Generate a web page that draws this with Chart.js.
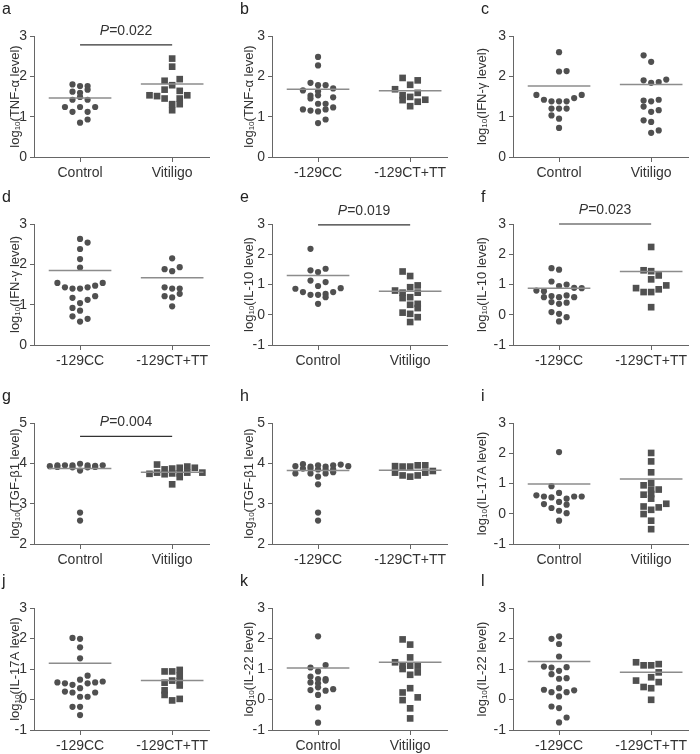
<!DOCTYPE html>
<html>
<head>
<meta charset="utf-8">
<script src="https://cdn.jsdelivr.net/npm/chart.js@4.4.0/dist/chart.umd.min.js"></script>
<style>
    body { margin: 0; background: #fff; width: 700px; height: 754px; position: relative; overflow: hidden; }
    canvas { position: absolute; }
</style>
</head>
<body>
<script>
// groups on the x axis
const caseGroups = ['Control', 'Vitiligo'];
const genoGroups = ['-129CC', '-129CT+TT'];

// y tick labels
const yTicksLow = [0, 1, 2, 3];
const yTicksIL = [-1, 0, 1, 2, 3];
const yTicksTGF = [2, 3, 4, 5];

// each point: [jitter slot, log10 level]
const tnfCtrl = [[-1,1.80],[0,1.76],[1,1.76],[1,1.67],[-1,1.62],[0,1.59],[0,1.49],[-1,1.42],[1,1.42],[-2,1.24],[0,1.24],[2,1.24],[-1,1.12],[1,1.12],[1,0.93],[0,0.85]];
const tnfVit = [[0,2.44],[0,2.24],[1,1.93],[-1,1.89],[0,1.78],[-1,1.67],[1,1.64],[-3,1.53],[-2,1.51],[2,1.53],[-1,1.45],[1,1.45],[0,1.31],[1,1.31],[0,1.16]];
const tnfCC = [[0,2.48],[0,2.27],[-1,1.84],[0,1.78],[1,1.78],[-2,1.65],[2,1.70],[0,1.63],[-1,1.52],[0,1.53],[2,1.48],[-1,1.45],[0,1.32],[1,1.32],[-2,1.18],[-1,1.15],[0,1.13],[1,1.18],[2,1.23],[1,0.93],[0,0.84]];
const tnfCT = [[-1,1.96],[1,1.90],[0,1.79],[-2,1.68],[1,1.59],[-1,1.53],[0,1.49],[-1,1.41],[2,1.42],[1,1.37],[0,1.26]];

const ifnCtrl = [[0,2.60],[0,2.12],[1,2.13],[-3,1.54],[3,1.54],[-2,1.42],[-1,1.38],[0,1.38],[1,1.38],[2,1.46],[-1,1.20],[0,1.20],[1,1.20],[-1,1.03],[0,0.95],[0,0.72]];
const ifnVit = [[-1,2.52],[0,2.36],[-1,1.90],[0,1.84],[1,1.86],[2,1.92],[-1,1.40],[0,1.38],[1,1.42],[-1,1.25],[0,1.12],[1,1.16],[-1,0.91],[0,0.87],[0,0.60],[1,0.66]];
const ifnCC = [[0,2.63],[1,2.54],[0,2.38],[0,2.13],[0,1.92],[-3,1.54],[-2,1.43],[-1,1.40],[0,1.40],[1,1.43],[2,1.47],[3,1.54],[-1,1.17],[1,1.12],[2,1.21],[0,1.04],[-1,0.92],[0,0.85],[-1,0.71],[1,0.65],[0,0.58]];
const ifnCT = [[0,2.15],[-1,1.88],[0,1.83],[1,1.93],[-1,1.43],[0,1.40],[1,1.40],[-1,1.21],[0,1.18],[1,1.27],[0,0.96]];

const il10Ctrl = [[-1,2.18],[-1,1.47],[0,1.41],[1,1.52],[-1,1.13],[1,1.08],[0,0.95],[-3,0.86],[-2,0.75],[-1,0.66],[0,0.66],[1,0.69],[1,0.58],[2,0.75],[3,0.88],[0,0.36]];
const il10Vit = [[-1,1.43],[0,1.28],[-2,0.80],[0,0.91],[1,0.97],[-1,0.73],[1,0.73],[-1,0.55],[0,0.58],[0,0.33],[1,0.36],[1,0.22],[-1,0.07],[0,0.03],[1,-0.08],[0,-0.24]];
const il10CC = [[-1,1.54],[0,1.49],[-1,1.10],[0,0.95],[1,1.00],[-3,0.80],[-2,0.78],[2,0.89],[3,0.88],[-2,0.58],[-1,0.62],[0,0.58],[1,0.64],[2,0.58],[-1,0.42],[0,0.36],[1,0.40],[-1,0.09],[0,0.03],[1,-0.08],[0,-0.22]];
const il10CT = [[0,2.24],[-1,1.47],[0,1.44],[1,1.30],[0,1.17],[-2,0.88],[-1,0.75],[0,0.75],[1,0.84],[2,0.97],[0,0.25]];

const tgfCtrl = [[-4,3.93],[-3,3.95],[-2,3.95],[-1,3.95],[0,3.99],[1,3.95],[2,3.94],[3,3.95],[-3,3.91],[-1,3.90],[1,3.90],[2,3.91],[0,3.82],[0,2.78],[0,2.58]];
const tgfVit = [[-2,3.97],[-1,3.85],[0,3.87],[1,3.89],[2,3.92],[3,3.89],[-3,3.74],[-2,3.77],[-1,3.73],[0,3.75],[1,3.75],[2,3.77],[4,3.77],[0,3.48],[1,3.66]];
const tgfCC = [[-3,3.93],[-2,3.98],[-1,3.92],[0,3.95],[1,3.92],[2,3.95],[3,3.97],[4,3.93],[-2,3.87],[-1,3.87],[0,3.85],[1,3.85],[2,3.85],[-3,3.75],[-1,3.75],[1,3.75],[2,3.78],[0,3.67],[0,3.48],[0,2.78],[0,2.58]];
const tgfCT = [[-2,3.93],[-1,3.92],[0,3.92],[1,3.95],[2,3.95],[-2,3.77],[-1,3.70],[0,3.67],[1,3.70],[2,3.77],[3,3.81]];

const il17Ctrl = [[0,2.04],[-1,0.91],[0,0.69],[-3,0.61],[-2,0.57],[-1,0.54],[1,0.50],[2,0.57],[3,0.57],[0,0.39],[-2,0.32],[1,0.30],[-1,0.19],[0,0.10],[1,0.02],[0,-0.23]];
const il17Vit = [[0,2.01],[0,1.73],[0,1.37],[-1,0.94],[0,1.02],[0,0.80],[1,0.80],[-1,0.63],[0,0.65],[0,0.50],[-1,0.24],[1,0.21],[2,0.33],[0,0.13],[-1,-0.01],[0,-0.23],[0,-0.51]];
const il17CC = [[-1,2.02],[0,1.99],[0,1.71],[0,1.35],[1,0.78],[0,0.65],[-3,0.56],[-2,0.53],[-1,0.48],[1,0.53],[2,0.56],[3,0.59],[0,0.37],[-2,0.26],[-1,0.23],[2,0.23],[0,0.09],[1,0.09],[-1,-0.24],[0,-0.24],[0,-0.51]];
const il17CT = [[-1,0.92],[0,0.92],[1,0.97],[1,0.78],[0,0.62],[1,0.60],[-1,0.55],[1,0.46],[-1,0.30],[-1,0.15],[1,0.02],[0,-0.03]];

const il22Ctrl = [[0,2.07],[-1,1.05],[1,1.13],[0,0.92],[-1,0.75],[0,0.67],[1,0.67],[-1,0.56],[0,0.53],[1,0.62],[-1,0.31],[0,0.40],[1,0.29],[2,0.34],[0,0.15],[0,-0.26],[0,-0.76]];
const il22Vit = [[-1,1.97],[0,1.80],[0,1.38],[-2,1.22],[-1,1.11],[0,1.11],[1,1.11],[-1,1.00],[1,0.89],[0,0.81],[0,0.37],[-1,0.23],[-1,-0.02],[1,0.07],[0,-0.29],[0,-0.62]];
const il22CC = [[-1,1.99],[0,2.07],[0,1.82],[0,1.41],[-2,1.08],[-1,1.05],[1,1.06],[0,0.94],[-1,0.83],[0,0.68],[1,0.70],[-2,0.32],[-1,0.24],[0,0.37],[1,0.24],[2,0.30],[0,0.10],[-1,-0.23],[0,-0.28],[1,-0.59],[0,-0.75]];
const il22CT = [[-2,1.22],[-1,1.12],[0,1.12],[1,1.16],[1,0.89],[0,0.73],[-2,0.62],[1,0.57],[-1,0.41],[0,0.37],[0,-0.01]];

// group means, panels a..l
const meanLevels = [[1.46,1.81],[1.68,1.64],[1.76,1.80],[1.85,1.67],[1.30,0.78],[0.88,1.43],[3.87,3.78],[3.82,3.83],[0.98,1.15],[1.19,0.62],[1.03,1.22],[1.25,0.89]];

// significance brackets, panels a..l
const pTexts = ['0.022', null, null, null, '0.019', '0.023', '0.004', null, null, null, null, null];
const bracketLevels = [2.78, null, null, null, 2.97, 3.0, 4.67, null, null, null, null, null];

const FONT = '"Liberation Sans", Arial, sans-serif';
const DOT = '#505050';
const AXIS = '#666';

// layout of the grid
const colAxisX = [34, 272, 513];
const colTitleOff = [19, 23, 31];
const rowTop = [36, 224, 423, 608];
const rowBottom = [157, 345, 544, 730];
const jitterStep = 0.082;

const panels = [
    { letter: 'a', title: 'TNF-α', groups: caseGroups, ticks: yTicksLow, series: [tnfCtrl, tnfVit], shapes: ['circle', 'rect'] },
    { letter: 'b', title: 'TNF-α', groups: genoGroups, ticks: yTicksLow, series: [tnfCC, tnfCT], shapes: ['circle', 'rect'] },
    { letter: 'c', title: 'IFN-γ', groups: caseGroups, ticks: yTicksLow, series: [ifnCtrl, ifnVit], shapes: ['circle', 'circle'] },
    { letter: 'd', title: 'IFN-γ', groups: genoGroups, ticks: yTicksLow, series: [ifnCC, ifnCT], shapes: ['circle', 'circle'] },
    { letter: 'e', title: 'IL-10', groups: caseGroups, ticks: yTicksIL, series: [il10Ctrl, il10Vit], shapes: ['circle', 'rect'] },
    { letter: 'f', title: 'IL-10', groups: genoGroups, ticks: yTicksIL, series: [il10CC, il10CT], shapes: ['circle', 'rect'] },
    { letter: 'g', title: 'TGF-β1', groups: caseGroups, ticks: yTicksTGF, series: [tgfCtrl, tgfVit], shapes: ['circle', 'rect'] },
    { letter: 'h', title: 'TGF-β1', groups: genoGroups, ticks: yTicksTGF, series: [tgfCC, tgfCT], shapes: ['circle', 'rect'] },
    { letter: 'i', title: 'IL-17A', groups: caseGroups, ticks: yTicksIL, series: [il17Ctrl, il17Vit], shapes: ['circle', 'rect'] },
    { letter: 'j', title: 'IL-17A', groups: genoGroups, ticks: yTicksIL, series: [il17CC, il17CT], shapes: ['circle', 'rect'] },
    { letter: 'k', title: 'IL-22', groups: caseGroups, ticks: yTicksIL, series: [il22Ctrl, il22Vit], shapes: ['circle', 'rect'] },
    { letter: 'l', title: 'IL-22', groups: genoGroups, ticks: yTicksIL, series: [il22CC, il22CT], shapes: ['circle', 'rect'] }
];

// letter, y title with subscript, P value text
const decor = {
    id: 'decor',
    afterDraw(chart, args, o) {
        const { ctx, chartArea: a, scales } = chart;
        ctx.save();
        ctx.fillStyle = '#222';
        ctx.textAlign = 'left';
        ctx.textBaseline = 'alphabetic';
        ctx.font = '16px ' + FONT;
        ctx.fillText(o.letter, a.left - 32, a.top - 22);

        if (o.p) {
            const lineY = scales.y.getPixelForValue(o.bracket);
            const mid = (scales.x.getPixelForValue(0) + scales.x.getPixelForValue(1)) / 2;
            ctx.font = 'italic 14px ' + FONT;
            const wP = ctx.measureText('P').width;
            ctx.font = '14px ' + FONT;
            const rest = '=' + o.p;
            const wR = ctx.measureText(rest).width;
            let sx = mid - (wP + wR) / 2;
            ctx.fillStyle = '#333';
            ctx.font = 'italic 14px ' + FONT;
            ctx.fillText('P', sx, lineY - 10);
            ctx.font = '14px ' + FONT;
            ctx.fillText(rest, sx + wP, lineY - 10);
        }

        // rotated y title: log10(... level)
        ctx.translate(a.left - o.titleOff, (a.top + a.bottom) / 2);
        ctx.rotate(-Math.PI / 2);
        const big = '13px ' + FONT, small = '8px ' + FONT;
        const rest = '(' + o.title + ' level)';
        ctx.font = big;
        const w1 = ctx.measureText('log').width, w3 = ctx.measureText(rest).width;
        ctx.font = small;
        const w2 = ctx.measureText('10').width;
        let sx = -(w1 + w2 + w3) / 2;
        ctx.fillStyle = '#333';
        ctx.textBaseline = 'middle';
        ctx.font = big; ctx.fillText('log', sx, 0); sx += w1;
        ctx.font = small; ctx.fillText('10', sx, 3); sx += w2;
        ctx.font = big; ctx.fillText(rest, sx, 0);
        ctx.restore();
    }
};

panels.forEach((p, i) => {
    const row = Math.floor(i / 3), col = i % 3;
    const top = rowTop[row], bottom = rowBottom[row];
    const canvas = document.createElement('canvas');
    canvas.width = 45 + 175 + 15;
    canvas.height = 40 + (bottom - top) + 24;
    canvas.style.left = (colAxisX[col] - 45) + 'px';
    canvas.style.top = (top - 40) + 'px';
    document.body.appendChild(canvas);

    const datasets = [];
    p.series.forEach((pts, k) => {
        datasets.push({
            data: pts.map(([s, v]) => ({ x: k + s * jitterStep, y: v })),
            pointStyle: p.shapes[k],
            pointRadius: p.shapes[k] === 'rect' ? 4.7 : 3.1,
            backgroundColor: DOT,
            borderWidth: 0,
            order: 2
        });
        const m = meanLevels[i][k];
        datasets.push({
            data: [{ x: k - 0.34, y: m }, { x: k + 0.34, y: m }],
            showLine: true,
            pointRadius: 0,
            borderColor: '#8c8c8c',
            borderWidth: 1.5,
            order: 1
        });
    });
    if (bracketLevels[i] !== null) {
        datasets.push({
            data: [{ x: 0, y: bracketLevels[i] }, { x: 1, y: bracketLevels[i] }],
            showLine: true,
            pointRadius: 0,
            borderColor: '#333',
            borderWidth: 1.2,
            clip: false,
            order: 0
        });
    }

    const ticks = p.ticks;
    new Chart(canvas, {
        type: 'scatter',
        data: { datasets },
        options: {
            responsive: false,
            animation: false,
            devicePixelRatio: 1,
            layout: { padding: { top: 40, right: 15, bottom: 0, left: 0 } },
            plugins: {
                legend: { display: false },
                tooltip: { enabled: false },
                decor: { letter: p.letter, title: p.title, titleOff: colTitleOff[col], p: pTexts[i], bracket: bracketLevels[i] }
            },
            scales: {
                x: {
                    type: 'linear',
                    min: -0.5,
                    max: 1.4,
                    afterBuildTicks: s => { s.ticks = [{ value: 0 }, { value: 1 }]; },
                    afterFit: s => { s.height = 24; },
                    ticks: {
                        callback: v => p.groups[v],
                        font: { size: 14, family: FONT },
                        color: '#333',
                        padding: 3,
                        maxRotation: 0,
                        autoSkip: false
                    },
                    grid: { drawOnChartArea: false, tickLength: 5, color: AXIS },
                    border: { display: true, color: AXIS, width: 1 }
                },
                y: {
                    min: ticks[0],
                    max: ticks[ticks.length - 1],
                    afterBuildTicks: s => { s.ticks = ticks.map(v => ({ value: v })); },
                    afterFit: s => { s.width = 45; },
                    ticks: {
                        font: { size: 14, family: FONT },
                        color: '#333',
                        padding: 3
                    },
                    grid: { drawOnChartArea: false, tickLength: 4, color: AXIS },
                    border: { display: true, color: AXIS, width: 1 }
                }
            }
        },
        plugins: [decor]
    });
});
</script>
</body>
</html>
